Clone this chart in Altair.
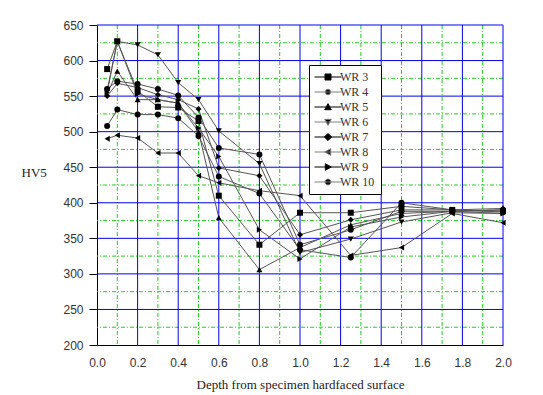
import altair as alt
import pandas as pd

depth = [0.05, 0.1, 0.2, 0.3, 0.4, 0.5, 0.6, 0.8, 1.0, 1.25, 1.5, 1.75, 2.0]
series = ["WR 3", "WR 4", "WR 5", "WR 6", "WR 7", "WR 8", "WR 9", "WR 10"]
wr3 = [588, 627, 557, 535, 534, 515, 410, 341, 386, 386, 395, 390, 388]
wr4 = [560, 571, 567, 560, 551, 520, 477, 468, 341, 362, 388, 388, 390]
wr5 = [553, 585, 545, 545, 540, 500, 379, 306, 337, 369, 385, 388, 390]
wr6 = [558, 627, 622, 608, 569, 545, 501, 455, 330, 349, 373, 386, 385]
wr7 = [550, 568, 562, 552, 545, 532, 449, 438, 355, 376, 390, 390, 392]
wr8 = [490, 495, 491, 470, 470, 438, 428, 417, 410, 326, 337, 385, 372]
wr9 = [555, 627, 553, 545, 540, 505, 465, 362, 321, 366, 380, 388, 385]
wr10 = [508, 531, 524, 524, 519, 494, 437, 413, 334, 323, 400, 390, 387]
values = [wr3, wr4, wr5, wr6, wr7, wr8, wr9, wr10]

shapes = ["square", "circle", "triangle-up", "triangle-down", "diamond",
          "triangle-left", "triangle-right", "circle"]
L = "M-4.5,0H4.5"
legend_paths = [
    L + "M-1,-1H1V1H-1Z",
    L + "M0.9,0A0.9,0.9,0,1,1,-0.9,0A0.9,0.9,0,1,1,0.9,0Z",
    L + "M0,-1.1L1.1,0.9H-1.1Z",
    L + "M0,1.1L1.1,-0.9H-1.1Z",
    L + "M0,-1.2L1.2,0L0,1.2L-1.2,0Z",
    L + "M-1.1,0L0.9,-1.1V1.1Z",
    L + "M1.1,0L-0.9,-1.1V1.1Z",
    L + "M1,0A1,1,0,1,1,-1,0A1,1,0,1,1,1,0Z",
]
line_colors = ["#000000", "#808080"] * 4

x_major = [0.2, 0.4, 0.6, 0.8, 1.0, 1.2, 1.4, 1.6, 1.8, 2.0]
x_minor = [0.1, 0.3, 0.5, 0.7, 0.9, 1.1, 1.3, 1.5, 1.7, 1.9]
y_major = [250, 300, 350, 400, 450, 500, 550, 600, 650]
y_minor = [225, 275, 325, 375, 425, 475, 525, 575, 625]
x_ticks = [0.0, 0.2, 0.4, 0.6, 0.8, 1.0, 1.2, 1.4, 1.6, 1.8, 2.0]
y_ticks = [200, 250, 300, 350, 400, 450, 500, 550, 600, 650]

rows = []
for s, vals in zip(series, values):
    for d, v in zip(depth, vals):
        rows.append({"series": s, "depth": d, "hv": v})
df = pd.DataFrame(rows)

xs = alt.Scale(domain=[0, 2], nice=False, zero=False)
ys = alt.Scale(domain=[200, 650], nice=False, zero=False)

x_axis = alt.Axis(values=x_ticks, format=".1f", grid=False, tickSize=0,
                  labelPadding=12, labelFont="Liberation Sans", labelFontSize=12,
                  labelColor="#333333", domainColor="black", labelOverlap=False,
                  labelFlush=False,
                  title="Depth from specimen hardfaced surface",
                  titleFont="Liberation Serif", titleFontSize=13,
                  titleFontWeight="normal", titleColor="#222222", titlePadding=10)
y_axis = alt.Axis(values=y_ticks, grid=False, tickSize=8, tickColor="black",
                  labelPadding=6, labelFont="Liberation Sans", labelFontSize=12,
                  labelColor="#333333", domainColor="black", labelOverlap=False,
                  labelFlush=False,
                  title="HV5", titleFont="Liberation Serif", titleFontSize=13,
                  titleFontWeight="normal", titleColor="#222222", titleAngle=0,
                  titleAlign="left", titleBaseline="middle", titleX=-76, titleY=147)


def X(f):
    return alt.X(f, scale=xs, axis=x_axis)


def Y(f):
    return alt.Y(f, scale=ys, axis=y_axis)


gxmin = alt.Chart(pd.DataFrame({"v": x_minor})).mark_rule(
    color="#22cc22", strokeWidth=1, strokeDash=[4, 2, 1, 2]).encode(x=X("v:Q"))
gymin = alt.Chart(pd.DataFrame({"v": y_minor})).mark_rule(
    color="#22cc22", strokeWidth=1, strokeDash=[4, 2, 1, 2]).encode(y=Y("v:Q"))
gxmaj = alt.Chart(pd.DataFrame({"v": x_major})).mark_rule(
    color="#0000ee", strokeWidth=1).encode(x=X("v:Q"))
gymaj = alt.Chart(pd.DataFrame({"v": y_major})).mark_rule(
    color="#0000ee", strokeWidth=1).encode(y=Y("v:Q"))

base = alt.Chart(df)
lines = base.mark_line(color="#555555", strokeWidth=1).encode(
    x=X("depth:Q"), y=Y("hv:Q"), detail="series:N",
)
point_layers = [
    base.transform_filter(alt.datum.series == s).mark_point(
        filled=True, color="black", opacity=1, size=36, shape=shp
    ).encode(x=X("depth:Q"), y=Y("hv:Q"))
    for s, shp in zip(series, shapes)
]

leg = alt.Legend(title=None, orient="none", legendX=212, legendY=40,
                 fillColor="white", strokeColor="black", padding=6,
                 labelFont="Liberation Serif", labelFontSize=12, labelColor="#333333",
                 symbolOffset=7, labelOffset=6, rowPadding=3, symbolSize=36,
                 symbolFillColor="black", symbolStrokeWidth=1, symbolOpacity=1)
legend_layer = base.mark_point(filled=False, fill="black", strokeWidth=1, size=36).encode(
    x=X("depth:Q"), y=Y("hv:Q"),
    shape=alt.Shape("series:N", scale=alt.Scale(domain=series, range=legend_paths), legend=leg, title=None),
    stroke=alt.Stroke("series:N", scale=alt.Scale(domain=series, range=line_colors), legend=leg, title=None),
).transform_filter("datum.hv > 10000")

chart = alt.layer(gxmin, gymin, gxmaj, gymaj, lines, *point_layers, legend_layer).properties(
    width=406, height=320,
    padding={"left": 13, "top": 11, "right": 5, "bottom": 5},
).configure_view(stroke=None).configure_axis(grid=False)

chart.save("out.html", embed_options={"renderer": "svg", "actions": False})
